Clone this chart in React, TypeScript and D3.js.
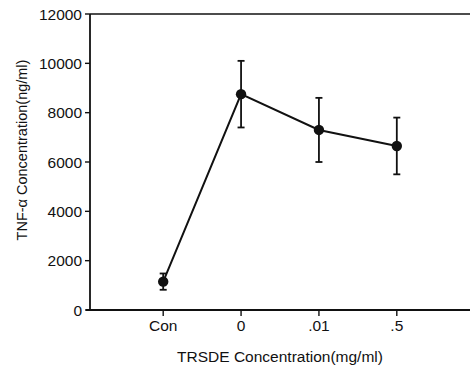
import { useEffect, useRef } from 'react';
import * as d3 from 'd3';

const categories = ['Con', '0', '.01', '.5'];
const means = [1150, 8750, 7300, 6650];
const errors = [330, 1350, 1300, 1150];
const yTicks = [0, 2000, 4000, 6000, 8000, 10000, 12000];

export default function App() {
  const svgRef = useRef<SVGSVGElement>(null);

  useEffect(() => {
    if (!svgRef.current) return;
    const svg = d3.select(svgRef.current);
    svg.selectAll('*').remove();

    const font = '"Liberation Sans", Arial, sans-serif';
    const left = 90;
    const right = 470;
    const top = 14;
    const bottom = 310;

    const x = d3.scalePoint<string>().domain(categories).range([left, right]).padding(0.94);
    const y = d3.scaleLinear().domain([0, 12000]).range([bottom, top]);

    const data = categories.map((c, i) => ({ c, m: means[i], e: errors[i] }));

    // frame: left axis, top line, bottom axis
    svg.append('line').attr('x1', left).attr('x2', left).attr('y1', top).attr('y2', bottom)
      .attr('stroke', '#111').attr('stroke-width', 1.8);
    svg.append('line').attr('x1', left).attr('x2', right).attr('y1', top).attr('y2', top)
      .attr('stroke', '#111').attr('stroke-width', 1.6);
    svg.append('line').attr('x1', left - 4).attr('x2', right).attr('y1', bottom).attr('y2', bottom)
      .attr('stroke', '#111').attr('stroke-width', 1.8);

    // y ticks
    const yg = svg.append('g');
    yTicks.forEach((t) => {
      yg.append('line').attr('x1', left - 5).attr('x2', left).attr('y1', y(t)).attr('y2', y(t))
        .attr('stroke', '#111').attr('stroke-width', 1.4);
      yg.append('text').attr('x', left - 8).attr('y', y(t)).attr('dy', '0.36em')
        .attr('text-anchor', 'end').attr('font-family', font).attr('font-size', 15.5)
        .attr('fill', '#111').text(String(t));
    });

    // x ticks
    const xg = svg.append('g');
    categories.forEach((c) => {
      xg.append('line').attr('x1', x(c)!).attr('x2', x(c)!).attr('y1', bottom).attr('y2', bottom + 6)
        .attr('stroke', '#111').attr('stroke-width', 1.4);
      xg.append('text').attr('x', x(c)!).attr('y', bottom + 21)
        .attr('text-anchor', 'middle').attr('font-family', font).attr('font-size', 15.5)
        .attr('fill', '#111').text(c);
    });

    // axis titles
    svg.append('text').attr('x', 280).attr('y', 362).attr('text-anchor', 'middle')
      .attr('font-family', font).attr('font-size', 15.5).attr('fill', '#111')
      .text('TRSDE Concentration(mg/ml)');
    svg.append('text').attr('transform', 'translate(27,150) rotate(-90)').attr('text-anchor', 'middle')
      .attr('font-family', font).attr('font-size', 14.5).attr('fill', '#111')
      .text('TNF-α  Concentration(ng/ml)');

    // error bars
    const eg = svg.append('g').attr('stroke', '#111').attr('stroke-width', 1.8);
    data.forEach((d) => {
      const cx = x(d.c)!;
      eg.append('line').attr('x1', cx).attr('x2', cx).attr('y1', y(d.m + d.e)).attr('y2', y(d.m - d.e));
      [d.m + d.e, d.m - d.e].forEach((v) => {
        eg.append('line').attr('x1', cx - 3.5).attr('x2', cx + 3.5).attr('y1', y(v)).attr('y2', y(v));
      });
    });

    // line
    const line = d3.line<{ c: string; m: number }>().x((d) => x(d.c)!).y((d) => y(d.m));
    svg.append('path').datum(data).attr('d', line).attr('fill', 'none')
      .attr('stroke', '#111').attr('stroke-width', 2);

    svg.selectAll('circle.pt').data(data).enter().append('circle').attr('class', 'pt')
      .attr('cx', (d) => x(d.c)!).attr('cy', (d) => y(d.m)).attr('r', 5.2).attr('fill', '#111');
  }, []);

  return (
    <div style={{ position: 'absolute', left: 0, top: 0 }}>
      <svg ref={svgRef} width={470} height={372} style={{ display: 'block', background: '#fff' }} />
    </div>
  );
}
